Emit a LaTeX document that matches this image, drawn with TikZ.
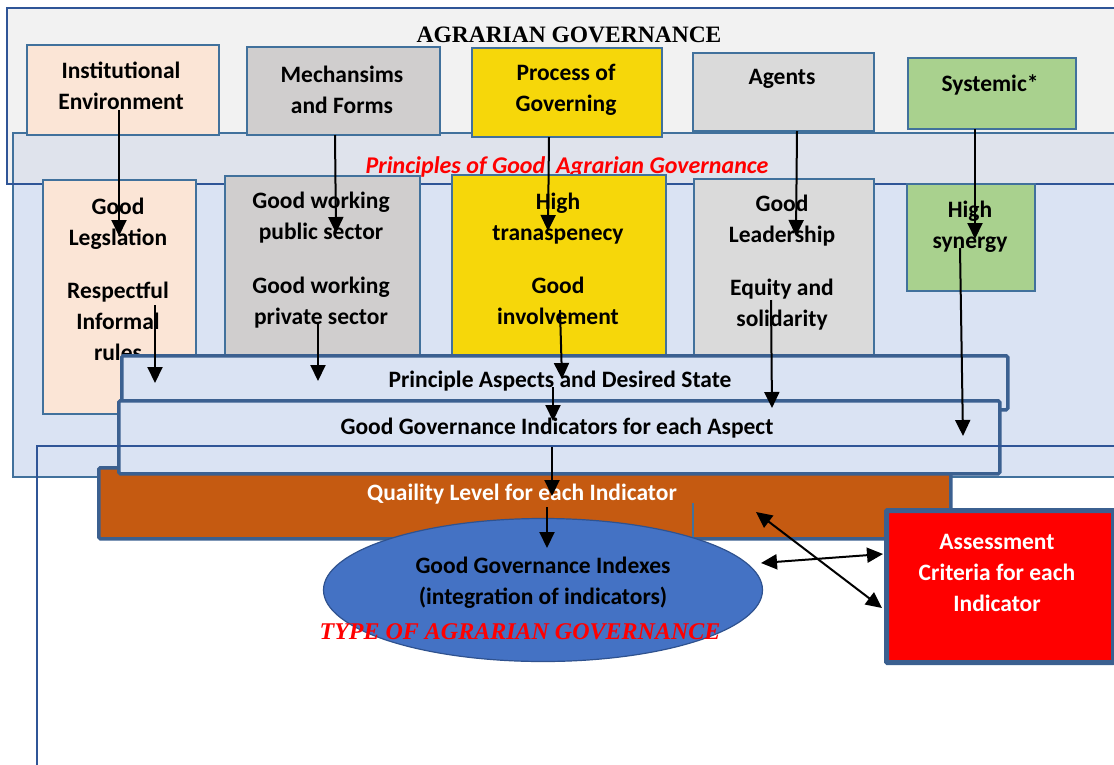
\documentclass[tikz,border=0pt]{standalone}
\usepackage{fontspec}
\setmainfont{Carlito}
\newfontfamily\timesfont{Liberation Serif}
\usetikzlibrary{arrows.meta, shapes.geometric}
\definecolor{frameblue}{HTML}{2F5597}
\definecolor{edgeblue}{HTML}{41719C}
\definecolor{baredge}{HTML}{3B6090}
\definecolor{bandblue}{HTML}{DAE3F3}
\definecolor{stripgray}{HTML}{DFE3EC}
\definecolor{panegray}{HTML}{F2F2F2}
\definecolor{peach}{HTML}{FBE5D6}
\definecolor{mechgray}{HTML}{D0CECE}
\definecolor{agentgray}{HTML}{DADADA}
\definecolor{govyellow}{HTML}{F6D70A}
\definecolor{sysgreen}{HTML}{A9D18E}
\definecolor{qualorange}{HTML}{C55A11}
\definecolor{indexblue}{HTML}{4472C4}
\definecolor{indexedge}{HTML}{2F528F}

\begin{document}
\begin{tikzpicture}[x=1pt, y=-1pt,
  box/.style={rectangle, draw=edgeblue, line width=1.5pt, anchor=north west, inner sep=0pt},
  barbox/.style={rectangle, draw=baredge, line width=3.5pt, rounded corners=1.5pt, anchor=north west, inner sep=0pt},
  txt/.style={font=\fontsize{23.5}{31}\selectfont\bfseries, align=center, inner sep=0pt},
  redtxt/.style={font=\fontsize{24}{26}\selectfont\bfseries\itshape, text=red, inner sep=0pt},
  arrow/.style={-{Triangle[length=16pt, width=15pt]}, line width=2pt},
  twoway/.style={{Triangle[length=16pt, width=15pt]}-{Triangle[length=16pt, width=15pt]}, line width=2pt},
]
  \useasboundingbox (0,0) rectangle (1114,764);
  \clip (0,0) rectangle (1114,764);

  % panels behind everything
  \fill[panegray] (7,8) rectangle (1130,184);
  \draw[fill=bandblue, draw=edgeblue, line width=1.5pt] (13,133) rectangle (1130,477);
  \fill[stripgray] (14,134) rectangle (1130,183);
  \draw[frameblue, line width=1.5pt] (7,8) rectangle (1130,184);
  \node[font=\timesfont\fontsize{23.5}{24}\selectfont\bfseries, inner sep=0pt] (title) at (569,35) {AGRARIAN GOVERNANCE};

  % top row
  \node[box, fill=peach, minimum width=192, minimum height=90] (inst) at (26,44) {};
  \node[box, fill=mechgray, minimum width=193, minimum height=88] (mech) at (246,46) {};
  \node[box, fill=govyellow, minimum width=190, minimum height=89] (proc) at (471,47) {};
  \node[box, fill=agentgray, minimum width=181, minimum height=78] (agent) at (692,52) {};
  \node[box, fill=sysgreen, minimum width=168, minimum height=71] (syst) at (907,57) {};
  \node[txt] (instT) at (121,86) {Institutional\\Environment};
  \node[txt] (mechT) at (342,90) {Mechansims\\and Forms};
  \node[txt] (procT) at (566,90) {Process of\\Governing};
  \node[txt] (agentT) at (782,79) {Agents};
  \node[txt] (systT) at (990,85) {Systemic*};

  \node[redtxt] (princ) at (567,167) {Principles of Good\ \ Agrarian Governance};

  % principles
  \node[box, line width=2pt, fill=peach, minimum width=153, minimum height=234] (legis) at (42,179) {};
  \node[box, line width=2pt, fill=mechgray, minimum width=195, minimum height=185] (work) at (224,175) {};
  \node[box, line width=2pt, fill=govyellow, minimum width=214, minimum height=186] (transp) at (451,174) {};
  \node[box, line width=2pt, fill=agentgray, minimum width=180, minimum height=182] (lead) at (693,178) {};
  \node[box, line width=2pt, fill=sysgreen, minimum width=128, minimum height=107] (syn) at (906,183) {};
  \node[txt] (legisT) at (118,279) {Good\\Legslation\\[22pt]Respectful\\Informal\\rules};
  \node[txt] (workT) at (321,260) {Good working\\public sector\\[23pt]Good working\\private sector};
  \node[txt] (transpT) at (558,259) {High\\tranaspenecy\\[22pt]Good\\involvement};
  \node[txt] (leadT) at (782,263) {Good\\Leadership\\[22pt]Equity and\\solidarity};
  \node[txt] (synT) at (970,227) {High\\synergy};

  % bars
  \node[barbox, fill=qualorange, minimum width=852, minimum height=71] (qual) at (97,466) {};
  \node[barbox, fill=bandblue, minimum width=886, minimum height=54] (aspect) at (120,354) {};
  \node[barbox, fill=bandblue, minimum width=881, minimum height=73] (indic) at (117,399) {};
  \draw[frameblue, line width=1.5pt] (37,780) -- (37,446) -- (1130,446);
  \node[txt] (aspectT) at (560,381) {Principle Aspects and Desired State};
  \node[txt] (indicT) at (557,428) {Good Governance Indicators for each Aspect};
  \node[txt, text=white] (qualT) at (522,494) {Quaility Level for each Indicator};
  \draw[edgeblue, line width=1.2pt] (693,503) -- (693,548);

  % index and criteria
  \node[ellipse, fill=indexblue, draw=indexedge, line width=1.2pt, minimum width=439, minimum height=143, inner sep=0pt] (index) at (543,590) {};
  \node[txt] (indexT) at (543,583) {Good Governance Indexes\\(integration of indicators)};
  \node[font=\timesfont\fontsize{24}{24}\selectfont\bfseries\itshape, text=red, inner sep=0pt] (typeT) at (520,632) {TYPE OF AGRARIAN GOVERNANCE};
  \node[rectangle, draw=baredge, line width=5pt, fill=red, rounded corners=1pt, anchor=north west, minimum width=227, minimum height=152, inner sep=0pt] (crit) at (884,508) {};
  \node[txt, text=white] (critT) at (997,573) {Assessment\\Criteria for each\\Indicator};

  % arrow ends
  \coordinate (a1s) at (119,110);  \coordinate (a1e) at (119,236);
  \coordinate (a2s) at (155,305);  \coordinate (a2e) at (155,383);
  \coordinate (a3s) at (335,135);  \coordinate (a3e) at (336,233);
  \coordinate (a4s) at (318,322);  \coordinate (a4e) at (318,381);
  \coordinate (a5s) at (549,137);  \coordinate (a5e) at (548,231);
  \coordinate (a6s) at (560,310);  \coordinate (a6e) at (562,379);
  \coordinate (a7s) at (553,387);  \coordinate (a7e) at (553,421);
  \coordinate (a8s) at (552,447);  \coordinate (a8e) at (552,496);
  \coordinate (a9s) at (547,507);  \coordinate (a9e) at (547,548);
  \coordinate (a10s) at (797,131); \coordinate (a10e) at (796,236);
  \coordinate (a11s) at (771,300); \coordinate (a11e) at (772,408);
  \coordinate (a12s) at (975,129); \coordinate (a12e) at (975,239);
  \coordinate (a13s) at (960,248); \coordinate (a13e) at (963,436);
  \coordinate (b1s) at (761,563);  \coordinate (b1e) at (883,554);
  \coordinate (b2s) at (756,512);  \coordinate (b2e) at (882,608);

  \draw[arrow] (a1s) -- (a1e);
  \draw[arrow] (a2s) -- (a2e);
  \draw[arrow] (a3s) -- (a3e);
  \draw[arrow] (a4s) -- (a4e);
  \draw[arrow] (a5s) -- (a5e);
  \draw[arrow] (a6s) -- (a6e);
  \draw[arrow] (a7s) -- (a7e);
  \draw[arrow] (a8s) -- (a8e);
  \draw[arrow] (a9s) -- (a9e);
  \draw[arrow] (a10s) -- (a10e);
  \draw[arrow] (a11s) -- (a11e);
  \draw[arrow] (a12s) -- (a12e);
  \draw[arrow] (a13s) -- (a13e);
  \draw[twoway] (b1s) -- (b1e);
  \draw[twoway] (b2s) -- (b2e);
\end{tikzpicture}
\end{document}
